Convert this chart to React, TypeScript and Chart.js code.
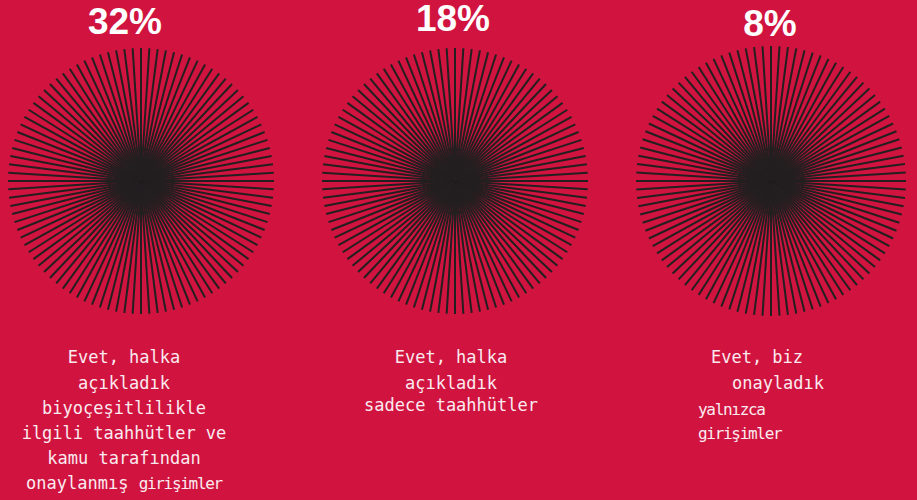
import React, { useEffect, useRef } from 'react';
import { Chart, registerables } from 'chart.js';

Chart.register(...registerables);

// ---- data ----
const PERCENT_VALUES = [32, 18, 8];
const PERCENT_LABELS = ['32%', '18%', '8%'];
const SPOKE_COUNT = 100;
// caption lines: each line is a list of [text, isSmall]
const CAPTION_1: [string, boolean][][] = [
  [['Evet, halka', false]],
  [['açıkladık', false]],
  [['biyoçeşitlilikle', false]],
  [['ilgili taahhütler ve', false]],
  [['kamu tarafından', false]],
  [['onaylanmış ', false], ['girişimler', true]],
];
const CAPTION_2: [string, boolean][][] = [
  [['Evet, halka', false]],
  [['açıkladık', false]],
  [['sadece taahhütler', false]],
];
const CAPTION_3: [string, boolean][][] = [
  [['Evet, biz', false]],
  [['onayladık', false]],
  [['yalnızca', true]],
  [['girişimler', true]],
];
const CAPTIONS = [CAPTION_1, CAPTION_2, CAPTION_3];

// ---- layout / style ----
const BG = '#D0143F';
const SPOKE = '#231F20';
const TEXT = '#FBEAF0';
const CIRCLES = [
  { cx: 141, cy: 181, r: 133 },
  { cx: 455, cy: 181, r: 133 },
  { cx: 771, cy: 181, r: 135 },
];
const PERCENT_POS = [
  { x: 125, top: 3 },
  { x: 453, top: 0 },
  { x: 770, top: 5 },
];
const CAPTION_POS: { x: number; y: number; align: 'center' | 'left' }[][] = [
  [
    { x: 124, y: 357, align: 'center' },
    { x: 124, y: 383, align: 'center' },
    { x: 124, y: 408, align: 'center' },
    { x: 124, y: 433, align: 'center' },
    { x: 124, y: 458, align: 'center' },
    { x: 124, y: 483, align: 'center' },
  ],
  [
    { x: 451, y: 357, align: 'center' },
    { x: 451, y: 383, align: 'center' },
    { x: 451, y: 405, align: 'center' },
  ],
  [
    { x: 757, y: 357, align: 'center' },
    { x: 778, y: 383, align: 'center' },
    { x: 698, y: 409, align: 'left' },
    { x: 698, y: 433, align: 'left' },
  ],
];

function Starburst({ value, label, size }: { value: number; label: string; size: number }) {
  const ref = useRef<HTMLCanvasElement | null>(null);
  useEffect(() => {
    if (!ref.current) return;
    const chart = new Chart(ref.current, {
      type: 'radar',
      data: {
        labels: Array.from({ length: SPOKE_COUNT }, () => ''),
        datasets: [
          {
            label,
            data: [],
            borderWidth: 0,
            pointRadius: 0,
            fill: false,
          },
        ],
      },
      options: {
        animation: false,
        responsive: false,
        events: [],
        layout: { padding: 0 },
        plugins: {
          legend: { display: false },
          tooltip: { enabled: false },
          title: { display: false },
        },
        scales: {
          r: {
            min: 0,
            max: 100,
            grid: { display: false },
            ticks: { display: false },
            pointLabels: { display: false },
            angleLines: { display: true, color: SPOKE, lineWidth: 2 },
          },
        },
      },
    });
    return () => chart.destroy();
  }, [value, label, size]);
  return <canvas ref={ref} width={size} height={size} style={{ width: size, height: size, display: 'block' }} />;
}

export default function App() {
  useEffect(() => {
    document.body.style.margin = '0';
    document.body.style.background = BG;
  }, []);
  return (
    <div
      style={{
        position: 'fixed',
        left: 0,
        top: 0,
        width: 917,
        height: 500,
        background: BG,
        overflow: 'hidden',
      }}
    >
      {CIRCLES.map((c, i) => (
        <div key={'c' + i} style={{ position: 'absolute', left: c.cx - c.r, top: c.cy - c.r }}>
          <Starburst value={PERCENT_VALUES[i]} label={PERCENT_LABELS[i]} size={c.r * 2} />
        </div>
      ))}
      {PERCENT_LABELS.map((p, i) => (
        <div
          key={'p' + i}
          style={{
            position: 'absolute',
            left: PERCENT_POS[i].x - 100,
            width: 200,
            top: PERCENT_POS[i].top,
            textAlign: 'center',
            fontFamily: '"Liberation Sans", Arial, sans-serif',
            fontWeight: 700,
            fontSize: 37,
            lineHeight: '37px',
            color: '#FFFFFF',
          }}
        >
          {p}
        </div>
      ))}
      {CAPTIONS.map((lines, i) =>
        lines.map((segs, j) => {
          const pos = CAPTION_POS[i][j];
          const isCenter = pos.align === 'center';
          return (
            <div
              key={'t' + i + '-' + j}
              style={{
                position: 'absolute',
                left: isCenter ? pos.x - 150 : pos.x,
                width: isCenter ? 300 : 200,
                top: pos.y - 11,
                height: 22,
                lineHeight: '22px',
                textAlign: pos.align,
                whiteSpace: 'pre',
                fontFamily: '"DejaVu Sans Mono", monospace',
                fontSize: 17,
                color: TEXT,
              }}
            >
              {segs.map(([t, small], k) => (
                <span
                  key={k}
                  style={small ? { fontSize: 16, letterSpacing: '-1.3px' } : { fontSize: 17 }}
                >
                  {t}
                </span>
              ))}
            </div>
          );
        })
      )}
    </div>
  );
}
